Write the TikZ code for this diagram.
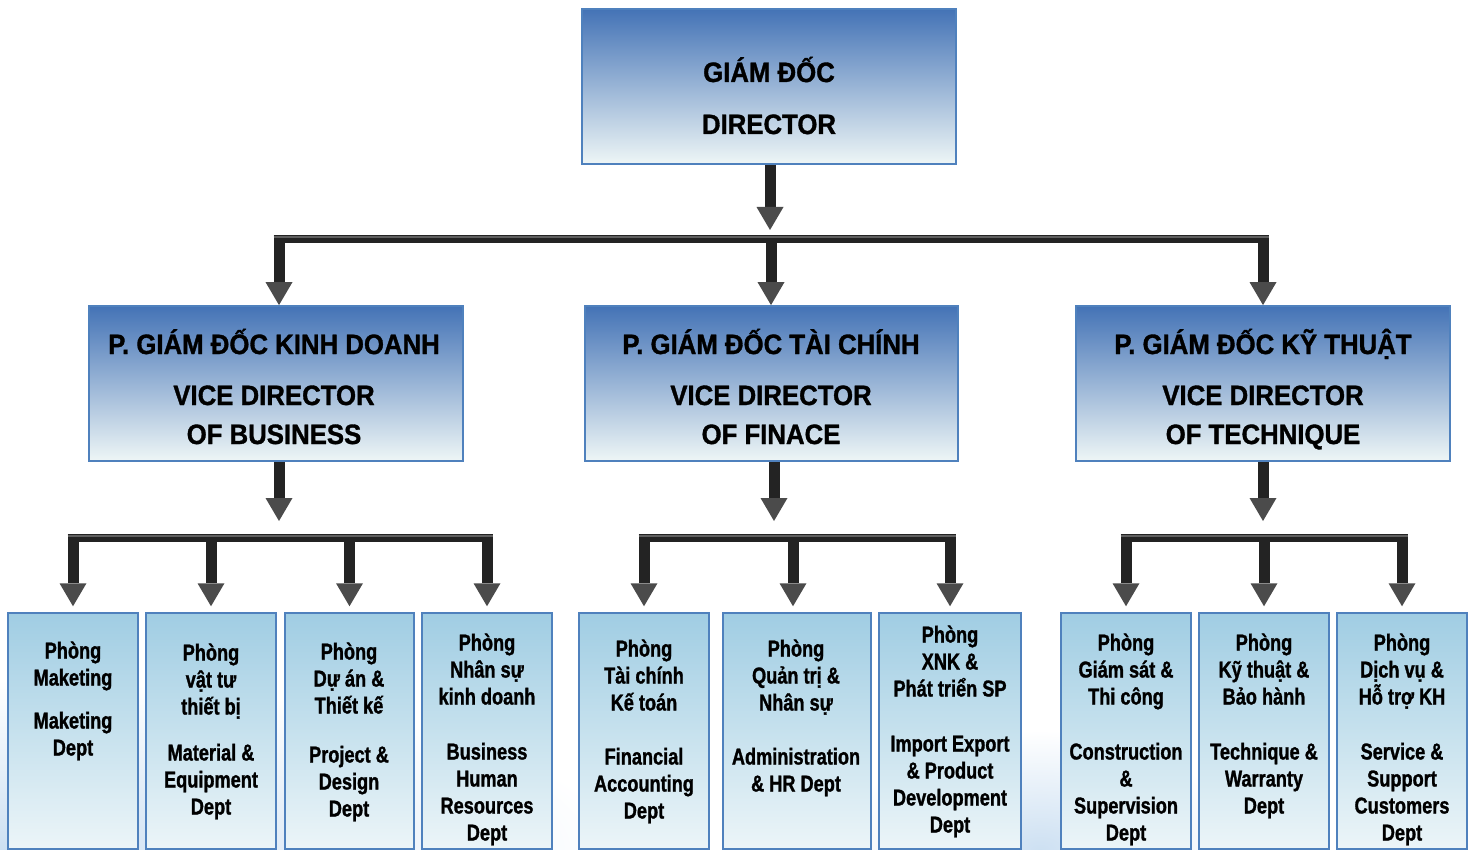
\documentclass[tikz,border=0pt]{standalone}
\usepackage{fontspec}
\usetikzlibrary{arrows.meta}
\newfontfamily\capfont[FakeStretch=0.92,FakeBold=1.2]{Liberation Sans}
\newfontfamily\lowfont[FakeStretch=0.79,FakeBold=1.2]{Liberation Sans}
\definecolor{bordc}{RGB}{79,129,189}
\definecolor{topA}{RGB}{68,115,182}
\definecolor{topB}{RGB}{150,178,216}
\definecolor{topC}{RGB}{238,246,246}
\definecolor{lowA}{RGB}{160,205,227}
\definecolor{lowB}{RGB}{200,226,238}
\definecolor{lowC}{RGB}{236,245,248}
\definecolor{shaftc}{RGB}{35,35,35}
\definecolor{shafthi}{RGB}{95,95,95}
\definecolor{headc}{RGB}{75,75,75}
\definecolor{glow}{RGB}{205,224,242}
\tikzset{
  bigbox/.style={draw=bordc, line width=1.8pt, top color=topA, middle color=topB, bottom color=topC, inner sep=0pt},
  deptbox/.style={draw=bordc, line width=1.5pt, top color=lowA, middle color=lowB, bottom color=lowC, inner sep=0pt, minimum height=236pt},
  ctext/.style={anchor=base, align=center, inner sep=0pt, text=black, font=\capfont\bfseries\fontsize{28}{39}\selectfont},
  dtext/.style={anchor=base, align=center, inner sep=0pt, text=black, font=\lowfont\bfseries\fontsize{23}{27}\selectfont},
  conn/.style={line width=11pt, draw=shaftc, -{Triangle[width=27pt 0 0,length=23pt 0 0,line width=0pt,fill=headc,color=headc]}},
  hbar/.style={line width=8pt, draw=shaftc, postaction={draw=shafthi, line width=2pt, transform canvas={yshift=2.5pt}}},
}
\begin{document}
\begin{tikzpicture}[x=1pt,y=-1pt]
\useasboundingbox (0,0) rectangle (1474,850);
% faint background glow at the bottom
\shade[inner color=glow, outer color=white] (0,850) ellipse [x radius=620pt, y radius=170pt];
\shade[inner color=glow, outer color=white] (1040,850) ellipse [x radius=200pt, y radius=120pt];
% ---------- boxes ----------
\node[bigbox, minimum width=374pt, minimum height=155pt] (dir) at (769,86.5) {};
\node[bigbox, minimum width=374pt, minimum height=155pt] (vb) at (276,383.5) {};
\node[bigbox, minimum width=373pt, minimum height=155pt] (vf) at (771.5,383.5) {};
\node[bigbox, minimum width=374pt, minimum height=155pt] (vt) at (1263,383.5) {};

\node[deptbox, minimum width=130pt] (b1) at (73,731) {};
\node[deptbox, minimum width=130pt] (b2) at (211,731) {};
\node[deptbox, minimum width=129pt] (b3) at (349.5,731) {};
\node[deptbox, minimum width=130pt] (b4) at (487,731) {};
\node[deptbox, minimum width=130pt] (m1) at (644,731) {};
\node[deptbox, minimum width=148pt] (m2) at (797,731) {};
\node[deptbox, minimum width=142pt] (m3) at (950,731) {};
\node[deptbox, minimum width=130pt] (r1) at (1126,731) {};
\node[deptbox, minimum width=130pt] (r2) at (1264,731) {};
\node[deptbox, minimum width=130pt] (r3) at (1402,731) {};

% ---------- texts (anchor = baseline of last line) ----------
\node[ctext, font=\capfont\bfseries\fontsize{28}{52}\selectfont] (tdir) at (769,134) {GIÁM ĐỐC\\DIRECTOR};
\node[ctext] (tvb) at (274,444) {P. GIÁM ĐỐC KINH DOANH\\[12pt]VICE DIRECTOR\\OF BUSINESS};
\node[ctext] (tvf) at (771,444) {P. GIÁM ĐỐC TÀI CHÍNH\\[12pt]VICE DIRECTOR\\OF FINACE};
\node[ctext] (tvt) at (1263,444) {P. GIÁM ĐỐC KỸ THUẬT\\[12pt]VICE DIRECTOR\\OF TECHNIQUE};

\node[dtext] (tb1) at (73,755.5) {Phòng\\Maketing\\[16pt]Maketing\\Dept};
\node[dtext] (tb2) at (211,814.5) {Phòng\\vật tư\\thiết bị\\[19pt]Material \&\\Equipment\\Dept};
\node[dtext] (tb3) at (349,816.5) {Phòng\\Dự án \&\\Thiết kế\\[22pt]Project \&\\Design\\Dept};
\node[dtext] (tb4) at (487,840.5) {Phòng\\Nhân sự\\kinh doanh\\[28pt]Business\\Human\\Resources\\Dept};
\node[dtext] (tm1) at (644,818.5) {Phòng\\Tài chính\\Kế toán\\[27pt]Financial\\Accounting\\Dept};
\node[dtext] (tm2) at (796,791.5) {Phòng\\Quản trị \&\\Nhân sự\\[27pt]Administration\\\& HR Dept};
\node[dtext] (tm3) at (950,832.5) {Phòng\\XNK \&\\Phát triển SP\\[28pt]Import Export\\\& Product\\Development\\Dept};
\node[dtext] (tr1) at (1126,840.5) {Phòng\\Giám sát \&\\Thi công\\[28pt]Construction\\\&\\Supervision\\Dept};
\node[dtext] (tr2) at (1264,813.5) {Phòng\\Kỹ thuật \&\\Bảo hành\\[28pt]Technique \&\\Warranty\\Dept};
\node[dtext] (tr3) at (1402,840.5) {Phòng\\Dịch vụ \&\\Hỗ trợ KH\\[28pt]Service \&\\Support\\Customers\\Dept};

% ---------- coordinates ----------
\coordinate (e0) at (770,230);
\coordinate (L0a) at (273.5,239.5);
\coordinate (L0b) at (1268.5,239.5);
\coordinate (d0a) at (279,239.5);
\coordinate (d0b) at (771,239.5);
\coordinate (d0c) at (1263,239.5);
\coordinate (e1) at (279,521);
\coordinate (e2) at (774,521);
\coordinate (e3) at (1263,521);
\coordinate (L1a) at (67.5,538);  \coordinate (L1b) at (492.5,538);
\coordinate (L2a) at (638.5,538); \coordinate (L2b) at (955.5,538);
\coordinate (L3a) at (1120.5,538);\coordinate (L3b) at (1407.5,538);

% ---------- connectors ----------
\draw[conn] (dir.south -| e0) -- (e0);
\draw[hbar] (L0a) -- (L0b);
\draw[conn] (d0a) -- (d0a |- vb.north);
\draw[conn] (d0b) -- (d0b |- vf.north);
\draw[conn] (d0c) -- (d0c |- vt.north);

\draw[conn] (vb.south -| e1) -- (e1);
\draw[conn] (vf.south -| e2) -- (e2);
\draw[conn] (vt.south -| e3) -- (e3);

\draw[hbar] (L1a) -- (L1b);
\draw[hbar] (L2a) -- (L2b);
\draw[hbar] (L3a) -- (L3b);

\foreach \n in {b1,b2,b3,b4,m1,m3,r1,r2,r3}{
  \draw[conn] (\n.north |- L1a) -- ([yshift=6pt]\n.north);
}
\coordinate (m2x) at (793,538);
\draw[conn] (m2x) -- ([yshift=6pt]m2x |- m2.north);
\end{tikzpicture}
\end{document}
